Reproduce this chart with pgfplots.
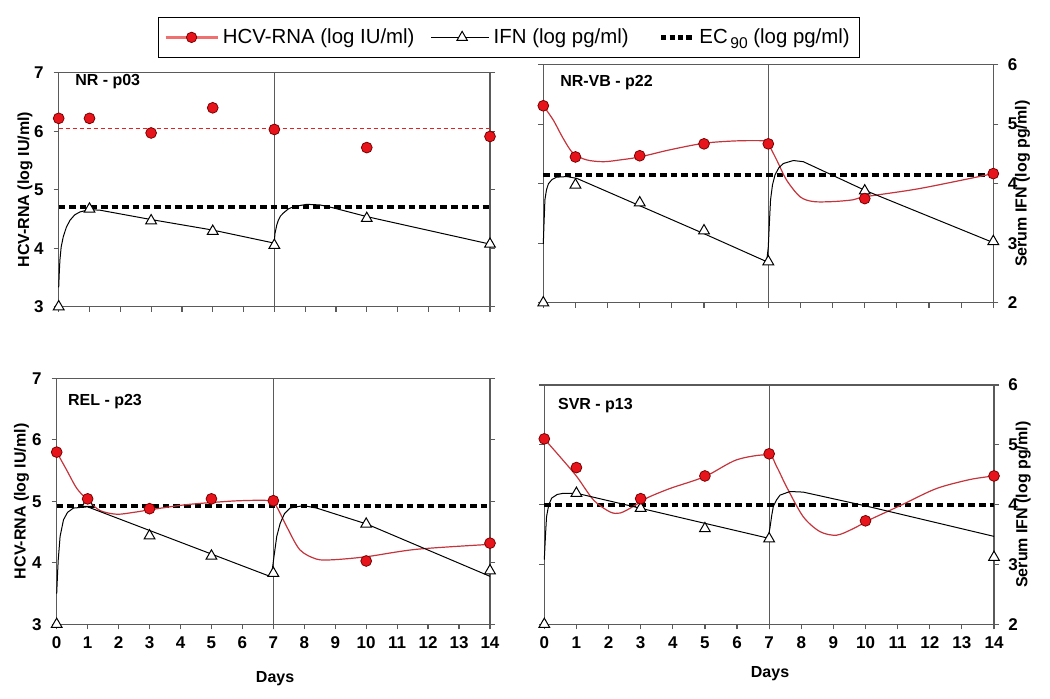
\documentclass[border=0pt]{standalone}
\usepackage{fontspec}
\setmainfont{Liberation Sans}
\usepackage{pgfplots}
\pgfplotsset{compat=1.18}
\usepackage{pgfplotstable}

\definecolor{axgray}{HTML}{5A5A5A}
\definecolor{dotred}{HTML}{E8141C}
\definecolor{dotedge}{HTML}{7A0000}
\definecolor{curvered}{HTML}{C4343C}
\definecolor{legpink}{HTML}{F07070}
\definecolor{meanred}{HTML}{E52020}

% ---------------- data (HCV in log IU/ml, IFN and EC90 in log pg/ml) ----------------
\pgfplotstableread{
x y
0 6.22
1 6.22
3 5.97
5 6.40
7 6.03
10 5.72
14 5.91
}\tlHcvDots
\pgfplotstableread{
x y
0 6.05
14 6.05
}\tlHcvMean
\pgfplotstableread{
x y
0 2.00
1 3.67
3 3.47
5 3.29
7 3.05
10 3.51
14 3.07
}\tlIfnDots
\pgfplotstableread{
x y
0 2.33
0.02 2.60
0.04 2.80
0.08 3.02
0.15 3.20
0.25 3.36
0.37 3.48
0.52 3.57
0.69 3.62
1.00 3.66
1.34 3.65
3.00 3.49
5.00 3.31
6.97 3.09
7.00 3.12
7.02 3.25
7.08 3.40
7.13 3.48
7.20 3.55
7.29 3.60
7.45 3.67
7.62 3.71
8.05 3.75
8.48 3.74
8.91 3.69
10.00 3.54
14.00 3.07
}\tlIfnCurve
\pgfplotstableread{
x y
0 3.70
14 3.70
}\tlEC

\pgfplotstableread{
x y
0 6.31
1 5.45
3 5.47
5 5.67
7 5.67
10 4.75
14 5.17
}\trHcvDots
\pgfplotstableread{
x y
0 6.31
0.31 6.07
0.62 5.76
0.93 5.51
1.35 5.40
1.87 5.37
2.39 5.40
3.00 5.45
3.94 5.57
5.00 5.68
6.01 5.72
6.90 5.72
7.00 5.67
7.26 5.40
7.57 5.06
7.99 4.78
8.40 4.70
9.02 4.70
9.64 4.73
10.00 4.78
11.72 4.92
14.00 5.17
}\trHcvCurve
\pgfplotstableread{
x y
0 2.00
1 3.98
3 3.68
5 3.21
7 2.69
10 3.88
14 3.03
}\trIfnDots
\pgfplotstableread{
x y
0 2.99
0.02 3.30
0.05 3.73
0.10 3.90
0.16 4.00
0.27 4.07
0.41 4.11
0.73 4.12
1.04 4.09
3.00 3.63
5.00 3.16
6.95 2.69
7.00 2.94
7.03 3.30
7.07 3.73
7.13 3.98
7.21 4.15
7.33 4.27
7.47 4.34
7.78 4.39
8.09 4.37
10.00 3.89
14.00 3.01
}\trIfnCurve
\pgfplotstableread{
x y
0 4.14
14 4.14
}\trEC

\pgfplotstableread{
x y
0 5.80
1 5.04
3 4.88
5 5.04
7 5.01
10 4.03
14 4.32
}\blHcvDots
\pgfplotstableread{
x y
0 5.80
0.32 5.51
0.65 5.21
1.00 5.02
1.40 4.85
1.94 4.79
2.48 4.82
2.98 4.86
4.09 4.94
4.99 4.98
5.92 5.01
6.89 5.01
7.11 4.91
7.43 4.59
7.86 4.21
8.40 4.06
8.94 4.05
10.02 4.10
11.63 4.22
14.00 4.30
}\blHcvCurve
\pgfplotstableread{
x y
0 2.00
1 3.97
3 3.44
5 3.11
7 2.83
10 3.63
14 2.87
}\blIfnDots
\pgfplotstableread{
x y
0 2.50
0.03 2.85
0.05 3.05
0.11 3.43
0.22 3.70
0.35 3.82
0.54 3.89
1.00 3.91
6.89 2.78
6.95 2.83
7.02 3.10
7.11 3.43
7.22 3.64
7.36 3.80
7.54 3.89
7.97 3.93
8.40 3.89
10.02 3.63
14.00 2.78
}\blIfnCurve
\pgfplotstableread{
x y
0 3.93
14 3.93
}\blEC

\pgfplotstableread{
x y
0 6.10
1 5.62
3 5.10
5 5.48
7 5.85
10 4.73
14 5.48
}\brHcvDots
\pgfplotstableread{
x y
0 6.10
0.49 5.80
1.01 5.47
1.53 5.08
2.04 4.88
2.36 4.86
2.77 4.97
3.19 5.11
3.91 5.27
5.00 5.47
5.99 5.75
6.97 5.83
7.23 5.64
7.54 5.30
8.06 4.80
8.58 4.55
9.10 4.49
9.62 4.60
10.14 4.75
10.66 4.88
11.18 5.01
12.21 5.27
13.25 5.42
14.00 5.48
}\brHcvCurve
\pgfplotstableread{
x y
0 2.00
1 4.19
3 3.94
5 3.60
7 3.43
14 3.12
}\brIfnDots
\pgfplotstableread{
x y
0 3.08
0.04 3.52
0.07 3.80
0.14 4.00
0.23 4.11
0.40 4.17
0.59 4.19
1.01 4.19
6.97 3.44
7.03 3.63
7.08 3.82
7.13 3.97
7.23 4.08
7.34 4.16
7.65 4.22
8.06 4.21
10.00 3.98
14.00 3.47
}\brIfnCurve
\pgfplotstableread{
x y
0 3.99
14 3.99
}\brEC

\tikzset{ptitle/.style={anchor=west, font=\bfseries\fontsize{8}{9.6}\selectfont}}

\pgfplotsset{
  panel/.style={
    scale only axis, anchor=south west,
    xmin=0, xmax=14, xtick={0,...,14},
    axis line style={axgray, line width=0.6pt},
    every tick/.style={axgray, line width=0.6pt},
    major tick length=2.5pt,
    tick align=outside,
    xtick pos=bottom,
    extra x ticks={7}, extra x tick labels={},
    extra x tick style={grid=major, major grid style={axgray, line width=0.6pt}},
    clip=false,
    /pgf/number format/assume math mode=true,
    tick label style={font=\bfseries\fontsize{8.5}{10}\selectfont},
    label style={font=\bfseries\fontsize{8}{9.6}\selectfont},
  },
  leftpanel/.style={panel, ymin=3, ymax=7, ytick={3,...,7}, yticklabel pos=left,
    yticklabel style={xshift=-1.5pt}, ylabel={HCV-RNA (log IU/ml)}},
  rightpanel/.style={panel, ymin=2, ymax=6, ytick={2,...,6}, yticklabel pos=right,
    yticklabel style={xshift=1.2pt}, ylabel={Serum IFN (log pg/ml)},
    ylabel style={at={(axis description cs:1.065,0.5)}, anchor=center, rotate=0}},
  hcvdots/.style={only marks, mark=*, mark size=2.7pt, mark options={fill=dotred, draw=dotedge, line width=0.4pt}},
  ifndots/.style={only marks, mark=triangle*, mark size=3.1pt, mark options={fill=white, draw=black, line width=0.5pt}},
  hcvcurve/.style={curvered, line width=0.6pt, smooth, no marks},
  ifncurve/.style={black, line width=0.5pt, no marks},
  ec90/.style={black, line width=2pt, dash pattern=on 3.3pt off 2pt, no marks},
}

\begin{document}
\begin{tikzpicture}
\useasboundingbox (0pt,0pt) rectangle (525pt,-349pt);

% ---------------- top left: NR - p03 ----------------
\begin{axis}[leftpanel, at={(29.35pt,-153.35pt)}, width=215.65pt, height=117pt,
  xticklabels={},
  ylabel style={at={(axis description cs:-0.078,0.5)}, anchor=center},
  legend columns=3,
  legend style={at={(axis description cs:1.044,1.151)}, anchor=center,
    draw=black, line width=0.6pt, inner xsep=3pt, inner ysep=3.5pt,
    font=\fontsize{10.2}{12}\selectfont,
    /tikz/every even column/.append style={column sep=6pt}},
]
\addlegendimage{legend image code/.code={
  \draw[legpink, line width=1.4pt] (0pt,0pt) -- (26pt,0pt);
  \draw[mark=*, mark size=2.6pt, mark options={fill=dotred, draw=dotedge, line width=0.4pt}] plot coordinates {(13pt,0pt)};}}
\addlegendentry{HCV-RNA (log IU/ml)}
\addlegendimage{legend image code/.code={
  \draw[black, line width=0.6pt] (0pt,0pt) -- (29pt,0pt);
  \draw[mark=triangle*, mark size=3pt, mark options={fill=white, draw=black, line width=0.5pt}] plot coordinates {(15.5pt,0pt)};}}
\addlegendentry{IFN (log pg/ml)}
\addlegendimage{legend image code/.code={
  \path (0pt,0pt);
  \draw[black, line width=2.2pt, dash pattern=on 2.6pt off 1.6pt] (8pt,0pt) -- (24pt,0pt);}}
\addlegendentry{EC\raisebox{-0.45ex}{\fontsize{7.8}{8}\selectfont\,90} (log pg/ml)}

\addplot[meanred, line width=0.6pt, dash pattern=on 2pt off 1.5pt, no marks] table {\tlHcvMean};
\addplot[ec90] table[y expr=\thisrow{y}+1] {\tlEC};
\addplot[ifncurve] table[y expr=\thisrow{y}+1] {\tlIfnCurve};
\addplot[ifndots] table[y expr=\thisrow{y}+1] {\tlIfnDots};
\addplot[hcvdots] table {\tlHcvDots};
\node[ptitle] at (rel axis cs:0.022,0.96) {NR - p03};
\end{axis}

% ---------------- top right: NR-VB - p22 ----------------
\begin{axis}[rightpanel, at={(271.65pt,-151.35pt)}, width=225pt, height=119pt,
  xticklabels={}]
\addplot[ec90] table {\trEC};
\addplot[hcvcurve] table[y expr=\thisrow{y}-1] {\trHcvCurve};
\addplot[ifncurve] table {\trIfnCurve};
\addplot[ifndots] table {\trIfnDots};
\addplot[hcvdots] table[y expr=\thisrow{y}-1] {\trHcvDots};
\node[ptitle] at (rel axis cs:0.022,0.923) {NR-VB - p22};
\end{axis}

% ---------------- bottom left: REL - p23 ----------------
\begin{axis}[leftpanel, at={(28.35pt,-312.15pt)}, width=216.65pt, height=123pt,
  ylabel style={at={(axis description cs:-0.081,0.5)}, anchor=center},
  xlabel={Days}, xlabel style={at={(axis description cs:0.504,-0.219)}, anchor=center}]
\addplot[ec90] table[y expr=\thisrow{y}+1] {\blEC};
\addplot[hcvcurve] table {\blHcvCurve};
\addplot[ifncurve] table[y expr=\thisrow{y}+1] {\blIfnCurve};
\addplot[ifndots] table[y expr=\thisrow{y}+1] {\blIfnDots};
\addplot[hcvdots] table {\blHcvDots};
\node[ptitle] at (rel axis cs:0.010,0.904) {REL - p23};
\end{axis}

% ---------------- bottom right: SVR - p13 ----------------
\begin{axis}[rightpanel, at={(272.15pt,-312.15pt)}, width=224.85pt, height=119.65pt,
  xlabel={Days}, xlabel style={at={(axis description cs:0.502,-0.205)}, anchor=center}]
\addplot[ec90] table {\brEC};
\addplot[hcvcurve] table[y expr=\thisrow{y}-1] {\brHcvCurve};
\addplot[ifncurve] table {\brIfnCurve};
\addplot[ifndots] table {\brIfnDots};
\addplot[hcvdots] table[y expr=\thisrow{y}-1] {\brHcvDots};
\node[ptitle] at (rel axis cs:0.015,0.916) {SVR - p13};
\end{axis}
\end{tikzpicture}
\end{document}
